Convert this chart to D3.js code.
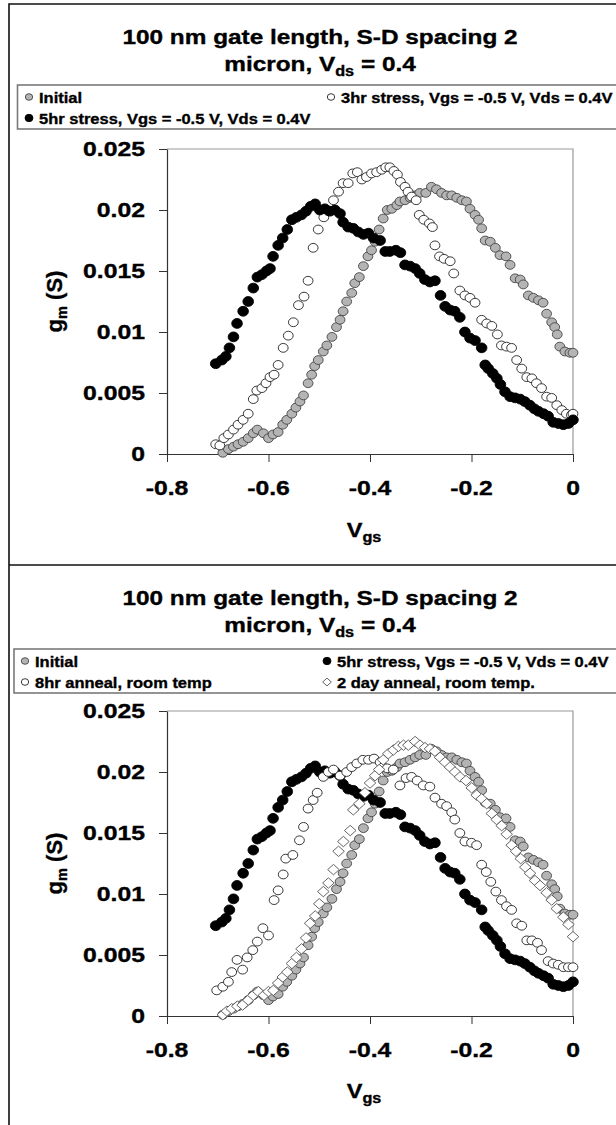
<!DOCTYPE html>
<html>
<head>
<meta charset="utf-8">
<script src="https://cdn.jsdelivr.net/npm/d3@7"></script>
<style>
  body { margin: 0; background: #fff; }
  text { font-family: "Liberation Sans", Arial, sans-serif; font-weight: bold; fill: #000;
         stroke: #000; stroke-width: 0.35px; }
</style>
</head>
<body>
<div id="chart"></div>
<script>
// Data ------------------------------- ----------
const xTicks = [-0.8, -0.6, -0.4, -0.2, 0];
const yTicks = [0, 0.005, 0.01, 0.015, 0.02, 0.025];

const initialV = [-0.690,-0.679,-0.669,-0.660,-0.650,-0.640,-0.630,-0.622,-0.610,-0.600,
  -0.591,-0.581,-0.572,-0.564,-0.554,-0.546,-0.538,-0.531,-0.522,-0.515,
  -0.509,-0.502,-0.492,-0.485,-0.475,-0.466,-0.459,-0.453,-0.446,-0.436,
  -0.430,-0.421,-0.413,-0.404,-0.397,-0.390,-0.382,-0.374,-0.366,-0.357,
  -0.347,-0.341,-0.331,-0.321,-0.311,-0.302,-0.290,-0.279,-0.269,-0.259,
  -0.249,-0.239,-0.229,-0.219,-0.210,-0.203,-0.193,-0.186,-0.180,-0.173,
  -0.163,-0.153,-0.144,-0.132,-0.124,-0.114,-0.104,-0.098,-0.088,-0.078,
  -0.068,-0.059,-0.052,-0.042,-0.036,-0.031,-0.026,-0.016,-0.006,0.000];
const initialG = [0.0001,0.0004,0.0006,0.0008,0.0010,0.0013,0.0017,0.0020,0.0017,0.0013,
  0.0016,0.0018,0.0024,0.0028,0.0033,0.0038,0.0043,0.0048,0.0058,0.0065,
  0.0072,0.0077,0.0084,0.0089,0.0096,0.0104,0.0110,0.0117,0.0125,0.0132,
  0.0140,0.0145,0.0154,0.0162,0.0167,0.0174,0.0184,0.0193,0.0200,0.0201,
  0.0204,0.0207,0.0208,0.0210,0.0212,0.0214,0.0214,0.0219,0.0217,0.0214,
  0.0212,0.0212,0.0210,0.0208,0.0207,0.0201,0.0196,0.0192,0.0185,0.0175,
  0.0174,0.0169,0.0163,0.0162,0.0155,0.0144,0.0143,0.0139,0.0130,0.0128,
  0.0126,0.0124,0.0115,0.0108,0.0104,0.0098,0.0088,0.0084,0.0083,0.0083];

const stress3V = [-0.704,-0.696,-0.688,-0.679,-0.669,-0.660,-0.650,-0.640,-0.630,-0.623,
  -0.613,-0.605,-0.597,-0.589,-0.581,-0.571,-0.561,-0.551,-0.541,-0.530,
  -0.522,-0.512,-0.502,-0.491,-0.482,-0.472,-0.462,-0.453,-0.443,-0.434,
  -0.425,-0.416,-0.407,-0.397,-0.387,-0.377,-0.369,-0.361,-0.353,-0.346,
  -0.340,-0.331,-0.325,-0.318,-0.309,-0.303,-0.294,-0.283,-0.277,-0.272,
  -0.263,-0.254,-0.242,-0.235,-0.223,-0.213,-0.203,-0.193,-0.180,-0.170,
  -0.160,-0.149,-0.141,-0.131,-0.121,-0.111,-0.101,-0.091,-0.081,-0.072,
  -0.062,-0.052,-0.042,-0.032,-0.022,-0.013,-0.003,0.000];
const stress3G = [0.0008,0.0007,0.0013,0.0016,0.0020,0.0024,0.0028,0.0033,0.0045,0.0052,
  0.0054,0.0058,0.0063,0.0065,0.0073,0.0087,0.0097,0.0108,0.0122,0.0129,
  0.0142,0.0169,0.0184,0.0194,0.0199,0.0208,0.0215,0.0222,0.0222,0.0230,
  0.0231,0.0225,0.0227,0.0230,0.0231,0.0233,0.0235,0.0235,0.0232,0.0229,
  0.0223,0.0219,0.0215,0.0211,0.0208,0.0196,0.0192,0.0189,0.0186,0.0171,
  0.0162,0.0160,0.0158,0.0148,0.0134,0.0130,0.0128,0.0124,0.0110,0.0107,
  0.0105,0.0098,0.0089,0.0088,0.0087,0.0077,0.0070,0.0063,0.0062,0.0058,
  0.0054,0.0047,0.0046,0.0040,0.0036,0.0033,0.0032,0.0033];

const stress5V = [-0.704,-0.692,-0.684,-0.677,-0.669,-0.662,-0.650,-0.640,-0.630,-0.622,
  -0.613,-0.604,-0.597,-0.591,-0.581,-0.572,-0.563,-0.554,-0.545,-0.535,
  -0.526,-0.517,-0.508,-0.499,-0.489,-0.479,-0.469,-0.459,-0.453,-0.443,
  -0.433,-0.423,-0.413,-0.403,-0.393,-0.380,-0.370,-0.361,-0.349,-0.340,
  -0.331,-0.321,-0.311,-0.302,-0.292,-0.282,-0.272,-0.261,-0.252,-0.242,
  -0.233,-0.223,-0.213,-0.203,-0.193,-0.180,-0.173,-0.167,-0.158,-0.150,
  -0.143,-0.134,-0.124,-0.114,-0.104,-0.095,-0.085,-0.076,-0.068,-0.058,
  -0.049,-0.039,-0.029,-0.019,-0.009,0.000];
const stress5G = [0.0074,0.0077,0.0080,0.0087,0.0096,0.0107,0.0117,0.0125,0.0136,0.0145,
  0.0147,0.0150,0.0152,0.0162,0.0171,0.0177,0.0184,0.0192,0.0194,0.0196,
  0.0199,0.0203,0.0205,0.0200,0.0201,0.0199,0.0200,0.0197,0.0190,0.0186,
  0.0185,0.0182,0.0180,0.0181,0.0177,0.0175,0.0166,0.0166,0.0167,0.0165,
  0.0155,0.0154,0.0152,0.0148,0.0143,0.0141,0.0142,0.0130,0.0121,0.0118,
  0.0117,0.0112,0.0100,0.0095,0.0093,0.0087,0.0073,0.0070,0.0066,0.0062,
  0.0057,0.0051,0.0047,0.0046,0.0045,0.0043,0.0040,0.0037,0.0035,0.0033,
  0.0031,0.0026,0.0025,0.0024,0.0025,0.0028];

const anneal8V = [-0.702,-0.690,-0.679,-0.6725,-0.662,-0.651,-0.642,-0.631,-0.622,-0.611,
  -0.600,-0.589,-0.581,-0.571,-0.566,-0.552,-0.539,-0.531,-0.522,-0.512,
  -0.504,-0.492,-0.482,-0.472,-0.459,-0.446,-0.436,-0.426,-0.414,-0.403,
  -0.392,-0.380,-0.374,-0.366,-0.354,-0.341,-0.329,-0.318,-0.307,-0.295,
  -0.282,-0.272,-0.259,-0.249,-0.239,-0.233,-0.223,-0.213,-0.200,-0.190,
  -0.180,-0.171,-0.162,-0.152,-0.141,-0.131,-0.121,-0.111,-0.101,-0.091,
  -0.081,-0.070,-0.062,-0.049,-0.039,-0.029,-0.019,-0.009,0.000];
const anneal8G = [0.0021,0.0024,0.0028,0.0036,0.0046,0.0038,0.0048,0.0054,0.0061,0.0072,
  0.0066,0.0095,0.0103,0.0116,0.0129,0.0132,0.0144,0.0155,0.0170,0.0177,
  0.0183,0.0196,0.0200,0.0202,0.0197,0.0200,0.0204,0.0207,0.0210,0.0210,
  0.0211,0.0208,0.0204,0.0203,0.0202,0.0189,0.0195,0.0196,0.0193,0.0189,
  0.0188,0.0179,0.0174,0.0172,0.0167,0.0161,0.0150,0.0143,0.0142,0.0140,
  0.0124,0.0118,0.0110,0.0102,0.0095,0.0090,0.0087,0.0076,0.0074,0.0062,
  0.0062,0.0060,0.0054,0.0045,0.0043,0.0042,0.0040,0.0040,0.0040];

const anneal2dV = [-0.690,-0.682,-0.6725,-0.6615,-0.651,-0.640,-0.630,-0.620,-0.609,-0.600,
  -0.5905,-0.581,-0.572,-0.563,-0.554,-0.545,-0.535,-0.526,-0.518,-0.508,
  -0.500,-0.492,-0.482,-0.472,-0.462,-0.4525,-0.439,-0.433,-0.421,-0.410,
  -0.400,-0.390,-0.382,-0.374,-0.364,-0.354,-0.344,-0.334,-0.3245,-0.311,
  -0.3015,-0.2916,-0.2818,-0.272,-0.262,-0.252,-0.2424,-0.2325,-0.2227,-0.2108,
  -0.1996,-0.1898,-0.180,-0.170,-0.160,-0.1504,-0.1406,-0.1307,-0.121,-0.1123,
  -0.103,-0.094,-0.0847,-0.0749,-0.065,-0.052,-0.042,-0.032,-0.019,-0.009,0.000];
const anneal2dG = [0.0001,0.0004,0.0006,0.0008,0.0009,0.0013,0.0017,0.0020,0.0017,0.0020,
  0.0021,0.0027,0.0032,0.0036,0.0043,0.0048,0.0055,0.0064,0.0076,0.0082,
  0.0092,0.0102,0.0109,0.0120,0.0135,0.0143,0.0152,0.0169,0.0174,0.0183,
  0.0191,0.0197,0.0202,0.0210,0.0215,0.0218,0.0221,0.0222,0.0222,0.0225,
  0.0222,0.0220,0.0219,0.0217,0.0212,0.0208,0.0204,0.0200,0.0196,0.0193,
  0.0187,0.0181,0.0178,0.0174,0.0166,0.0161,0.0156,0.0149,0.0140,0.0135,
  0.0129,0.0122,0.0117,0.0111,0.0107,0.0101,0.0095,0.0088,0.0081,0.0075,0.0065];

// Layout ---------- ----------
const W = 616, H = 1125;
const plotL = 167, plotR = 573, plotH = 305;
const titleSX = 1.16, legSX = 1.1, tickSX = 1.27, axSX = 1.12;

// marker styles
const styles = {
  initial: { shape: "circle", fill: "#b4b4b4", stroke: "#444", rx: 4.9, ry: 4.4 },
  open:    { shape: "circle", fill: "#fff",    stroke: "#222", rx: 4.9, ry: 4.4 },
  black:   { shape: "circle", fill: "#000",    stroke: "#000", rx: 5.3, ry: 4.9 },
  diamond: { shape: "diamond", fill: "#fff",   stroke: "#555", rx: 5.8, ry: 5.2 }
};

const panels = [
  { top: 0, plotTop: 149, legendX: 17.5, legendY: 85,
    series: [[initialV, initialG, "initial"], [stress3V, stress3G, "open"], [stress5V, stress5G, "black"]],
    legend: [
      { label: "Initial", style: "initial", x: 29, row: 0 },
      { label: "3hr stress, Vgs = -0.5 V, Vds = 0.4V", style: "open", x: 331, row: 0 },
      { label: "5hr stress, Vgs = -0.5 V, Vds = 0.4V", style: "black", x: 29, row: 1 }
    ] },
  { top: 561, plotTop: 711, legendX: 14, legendY: 649,
    series: [[initialV, initialG, "initial"], [stress5V, stress5G, "black"], [anneal8V, anneal8G, "open"], [anneal2dV, anneal2dG, "diamond"]],
    legend: [
      { label: "Initial", style: "initial", x: 25, row: 0 },
      { label: "5hr stress, Vgs = -0.5 V, Vds = 0.4V", style: "black", x: 327, row: 0 },
      { label: "8hr anneal, room temp", style: "open", x: 25, row: 1 },
      { label: "2 day anneal, room temp.", style: "diamond", x: 327, row: 1 }
    ] }
];

const svg = d3.select("#chart").append("svg").attr("width", W).attr("height", H);
svg.append("rect").attr("width", W).attr("height", H).attr("fill", "#fff");

// outer frame
svg.append("path").attr("d", `M9,${H} L9,4 L${W},4 M9,565 L${W},565`)
  .attr("fill", "none").attr("stroke", "#111").attr("stroke-width", 1.6);

function txt(g, x, y, s, size, sx, anchor) {
  return g.append("text").attr("transform", `translate(${x},${y}) scale(${sx},1)`)
    .attr("text-anchor", anchor || "start").attr("font-size", size).text(s);
}

function marker(g, st, x, y, k) {
  k = k || 1;
  if (st.shape === "diamond") {
    const a = st.rx * k, b = st.ry * k;
    return g.append("path").attr("d", `M${x},${y - b}L${x + a},${y}L${x},${y + b}L${x - a},${y}Z`)
      .attr("fill", st.fill).attr("stroke", st.stroke).attr("stroke-width", 0.9);
  }
  return g.append("ellipse").attr("cx", x).attr("cy", y).attr("rx", st.rx * k).attr("ry", st.ry * k)
    .attr("fill", st.fill).attr("stroke", st.stroke).attr("stroke-width", 0.9);
}

panels.forEach(p => {
  const g = svg.append("g");
  const x = d3.scaleLinear().domain([-0.8, 0]).range([plotL, plotR]);
  const y = d3.scaleLinear().domain([0, 0.025]).range([p.plotTop + plotH, p.plotTop]);

  // Title (two lines)
  txt(g, 320, p.top + 44, "100 nm gate length, S-D spacing 2", 21, titleSX, "middle");
  const t2 = txt(g, 320, p.top + 71, "micron, V", 21, titleSX, "middle");
  t2.append("tspan").attr("font-size", 14).attr("dy", 5).text("ds");
  t2.append("tspan").attr("dy", -5).text(" = 0.4");

  // Legend box
  g.append("rect").attr("x", p.legendX).attr("y", p.legendY).attr("width", W).attr("height", 44)
    .attr("fill", "#fff").attr("stroke", "#7a7a7a").attr("stroke-width", 1.6);
  p.legend.forEach(d => {
    const cy = p.legendY + 12 + d.row * 21;
    marker(g, styles[d.style], d.x, cy, 0.75);
    txt(g, d.x + 10, cy + 5.5, d.label, 15, legSX);
  });

  // Plot frame (top & right light)
  g.append("path").attr("d", `M${x(-0.8)},${y(0.025)}L${x(0)},${y(0.025)}L${x(0)},${y(0)}`)
    .attr("fill", "none").attr("stroke", "#9a9a9a").attr("stroke-width", 1.2);

  // Axes
  g.append("g").attr("transform", `translate(${x(-0.8)},0)`).attr("color", "#333")
    .call(d3.axisLeft(y).tickValues(yTicks).tickSize(8).tickSizeOuter(0).tickFormat(""))
    .call(a => a.select(".domain").attr("stroke-width", 1.2));
  g.append("g").attr("transform", `translate(0,${y(0)})`).attr("color", "#333")
    .call(d3.axisBottom(x).tickValues(xTicks).tickSize(8).tickSizeOuter(0).tickFormat(""))
    .call(a => a.select(".domain").attr("stroke-width", 1.2));

  // Tick labels
  yTicks.forEach(t => txt(g, x(-0.8) - 22, y(t) + 7, String(+t.toFixed(3)), 19.5, tickSX, "end"));
  xTicks.forEach(t => txt(g, x(t), y(0) + 41, String(t), 19.5, tickSX, "middle"));

  // Axis titles
  const xt = txt(g, (plotL + plotR) / 2 - 6, p.top + 537, "V", 21, axSX, "middle");
  xt.append("tspan").attr("font-size", 14.5).attr("dy", 5).text("gs");
  const yt = g.append("text").attr("transform", `translate(62,${y(0.0125)}) rotate(-90)`)
    .attr("text-anchor", "middle").attr("font-size", 22).text("g");
  yt.append("tspan").attr("font-size", 14.5).attr("dy", 5).text("m");
  yt.append("tspan").attr("dy", -5).text(" (S)");

  // Series
  p.series.forEach(([vs, gs, key]) => {
    const st = styles[key];
    const sg = g.append("g");
    vs.forEach((v, i) => marker(sg, st, x(v), y(gs[i])));
  });
});
</script>
</body>
</html>
